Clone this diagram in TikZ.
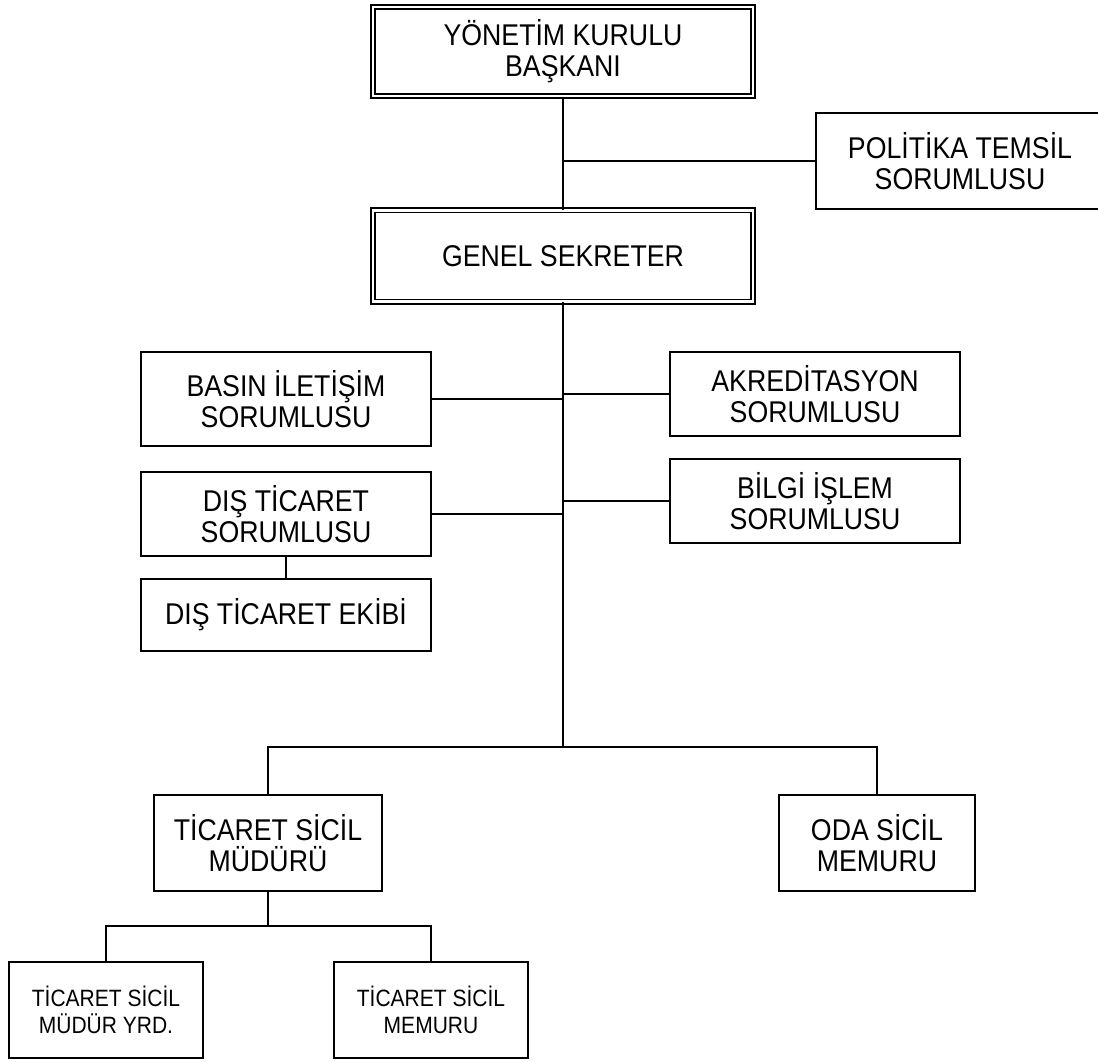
\documentclass[tikz,border=0pt]{standalone}
\usepackage{fontspec}
\setmainfont{Liberation Sans}
\newfontfamily\tallfont[FakeStretch=0.89]{Liberation Sans}
\newcommand{\bigtxt}{\tallfont\fontsize{30}{31}\selectfont}
\newcommand{\smalltxt}{\tallfont\fontsize{23.6}{26.5}\selectfont}
\begin{document}
\begin{tikzpicture}[x=1pt,y=-1pt,
  box/.style={draw, line width=1.8pt, inner sep=0pt, align=center, font=\bigtxt},
  smallbox/.style={box, font=\smalltxt},
  dblbox/.style={box, double, line width=1.4pt, double distance=2.8pt},
  conn/.style={line width=2pt}]
\useasboundingbox (0,0) rectangle (1098,1061);
\clip (0,0) rectangle (1098,1061);
\fill[white] (0,0) rectangle (1098,1061);

\node[dblbox, minimum width=380pt, minimum height=89pt] (ykb) at (563,51.5) {YÖNETİM KURULU\\BAŞKANI};
\node[dblbox, minimum width=380pt, minimum height=91.5pt] (gs) at (563,256) {GENEL SEKRETER};
\node[box, minimum width=288pt, minimum height=96pt] (pol) at (960,161) {POLİTİKA TEMSİL\\SORUMLUSU};

\node[box, minimum width=290pt, minimum height=94pt] (basin) at (286,399) {BASIN İLETİŞİM\\SORUMLUSU};
\node[box, minimum width=290pt, minimum height=84pt] (dts) at (286,514) {DIŞ TİCARET\\SORUMLUSU};
\node[box, minimum width=290pt, minimum height=72pt] (dte) at (286,615) {DIŞ TİCARET EKİBİ};
\node[box, minimum width=290pt, minimum height=84pt] (akr) at (815,394) {AKREDİTASYON\\SORUMLUSU};
\node[box, minimum width=290pt, minimum height=84pt] (bil) at (815,501) {BİLGİ İŞLEM\\SORUMLUSU};

\node[box, minimum width=228pt, minimum height=96pt] (tsm) at (268,843) {TİCARET SİCİL\\MÜDÜRÜ};
\node[box, minimum width=196pt, minimum height=96pt] (oda) at (877,843) {ODA SİCİL\\MEMURU};
\node[smallbox, minimum width=194pt, minimum height=96pt] (yrd) at (106,1010) {TİCARET SİCİL\\MÜDÜR YRD.};
\node[smallbox, minimum width=194pt, minimum height=96pt] (mem) at (431,1010) {TİCARET SİCİL\\MEMURU};

\coordinate (bus) at (563,747);
\coordinate (tbus) at (268,926);

\draw[conn] (ykb.south) -- (gs.north);
\draw[conn] (ykb.south |- pol.west) -- (pol.west);
\draw[conn] (gs.south) -- (bus);
\draw[conn] (basin.east) -- (basin.east -| gs.south);
\draw[conn] (dts.east) -- (dts.east -| gs.south);
\draw[conn] (akr.west) -- (akr.west -| gs.south);
\draw[conn] (bil.west) -- (bil.west -| gs.south);
\draw[conn] (dts.south) -- (dte.north);
\draw[conn] (tsm.north) |- (bus) -| (oda.north);
\draw[conn] (tsm.south) -- (tbus);
\draw[conn] (yrd.north) |- (tbus) -| (mem.north);
\end{tikzpicture}
\end{document}
